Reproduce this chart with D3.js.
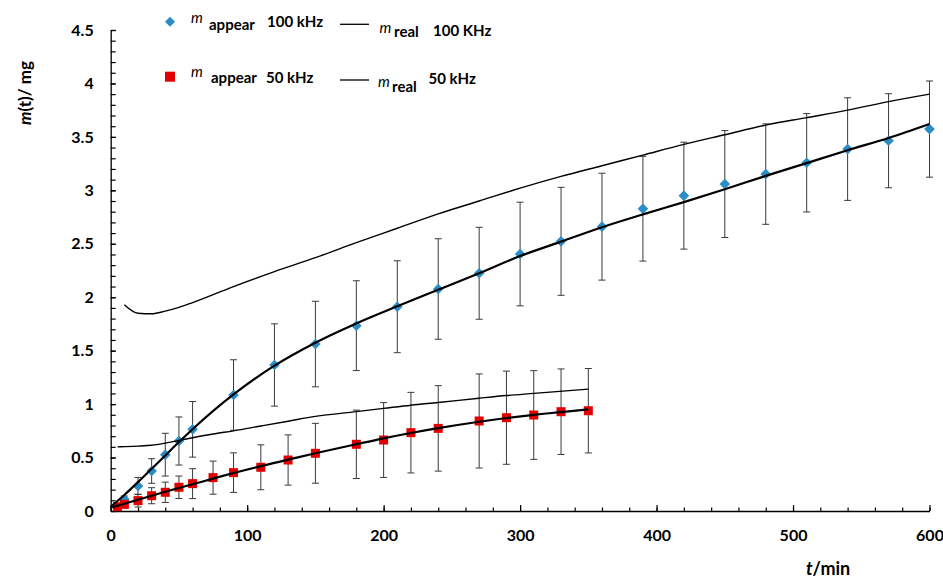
<!DOCTYPE html>
<html>
<head>
<meta charset="utf-8">
<script src="https://cdn.jsdelivr.net/npm/d3@7"></script>
<style>
  html, body { margin: 0; padding: 0; background: #fff; }
  svg { display: block; font-family: Lato, "Open Sans", sans-serif; }
</style>
</head>
<body>
<svg id="chart" width="943" height="579"></svg>
<script>
// Measured mass m(t) in mg versus time t in minutes
const times100   = [10, 20, 30, 40, 50, 60, 90, 120, 150, 180, 210, 240, 270, 300, 330, 360, 390, 420, 450, 480, 510, 540, 570, 600];
const appear100  = [0.11, 0.234, 0.374, 0.527, 0.655, 0.764, 1.085, 1.366, 1.562, 1.734, 1.911, 2.077, 2.224, 2.404, 2.523, 2.66, 2.828, 2.95, 3.059, 3.152, 3.258, 3.386, 3.464, 3.573];
const err100     = [0.03, 0.08, 0.115, 0.2, 0.225, 0.26, 0.33, 0.385, 0.4, 0.42, 0.43, 0.47, 0.43, 0.485, 0.505, 0.5, 0.49, 0.5, 0.5, 0.47, 0.46, 0.48, 0.44, 0.45];
const real100    = [1.93, 1.85, 1.845, 1.87, 1.905, 1.95, 2.10, 2.24, 2.37, 2.51, 2.645, 2.78, 2.90, 3.02, 3.13, 3.23, 3.33, 3.43, 3.52, 3.61, 3.68, 3.75, 3.83, 3.90];
const fitTimes100 = [0, 10, 20, 30, 40, 50, 60, 90, 120, 150, 180, 210, 240, 270, 300, 330, 360, 390, 420, 450, 480, 510, 540, 570, 600];
const fit100     = [0.04, 0.15, 0.27, 0.395, 0.52, 0.645, 0.765, 1.09, 1.36, 1.575, 1.755, 1.915, 2.07, 2.225, 2.385, 2.52, 2.655, 2.775, 2.89, 3.01, 3.135, 3.255, 3.375, 3.49, 3.62];

const times50    = [5, 10, 20, 30, 40, 50, 60, 75, 90, 110, 130, 150, 180, 200, 220, 240, 270, 290, 310, 330, 350];
const appear50   = [0.04, 0.062, 0.097, 0.143, 0.175, 0.222, 0.256, 0.312, 0.359, 0.409, 0.477, 0.54, 0.624, 0.664, 0.733, 0.773, 0.842, 0.873, 0.898, 0.929, 0.938];
const err50      = [0.02, 0.03, 0.06, 0.075, 0.095, 0.105, 0.14, 0.155, 0.185, 0.21, 0.235, 0.28, 0.32, 0.35, 0.377, 0.4, 0.44, 0.436, 0.415, 0.4, 0.395];
const real50     = [0.60, 0.602, 0.607, 0.615, 0.635, 0.66, 0.685, 0.72, 0.75, 0.795, 0.84, 0.885, 0.93, 0.96, 0.99, 1.015, 1.055, 1.08, 1.10, 1.12, 1.14];
const fitTimes50 = [0, 5, 10, 20, 30, 40, 50, 60, 75, 90, 110, 130, 150, 180, 200, 220, 240, 270, 290, 310, 330, 350];
const fit50      = [0.03, 0.05, 0.068, 0.105, 0.143, 0.18, 0.215, 0.25, 0.303, 0.355, 0.42, 0.48, 0.54, 0.625, 0.68, 0.73, 0.775, 0.835, 0.87, 0.90, 0.925, 0.95];

const xTicks = [0, 100, 200, 300, 400, 500, 600];
const xMinorTicks = d3.range(0, 601, 20);
const yTicks = [0, 0.5, 1, 1.5, 2, 2.5, 3, 3.5, 4, 4.5];
const yMinorTicks = d3.range(0, 46).map(i => i / 10);

const svg = d3.select("#chart");
const plotLeft = 110.7, plotRight = 929.5, plotTop = 30, plotBottom = 511;
const x = d3.scaleLinear().domain([0, 600]).range([plotLeft, plotRight]);
const y = d3.scaleLinear().domain([0, 4.5]).range([plotBottom, plotTop]);

const BLUE = "#2a8dc6", RED = "#e00000";

// axes
const yMinor = svg.append("g").attr("transform", `translate(${plotLeft},0)`)
  .call(d3.axisLeft(y).tickValues(yMinorTicks).tickSizeInner(-5).tickSizeOuter(0).tickFormat(""));
yMinor.select(".domain").remove();
svg.append("g").attr("transform", `translate(${plotLeft},0)`)
  .call(d3.axisLeft(y).tickValues(yTicks).tickSizeInner(-5).tickSizeOuter(0).tickPadding(17)
    .tickFormat(d => d3.format("")(d)));
const xMinor = svg.append("g").attr("transform", `translate(0,${plotBottom})`)
  .call(d3.axisBottom(x).tickValues(xMinorTicks).tickSizeInner(-3.5).tickSizeOuter(0).tickFormat(""));
xMinor.select(".domain").remove();
svg.append("g").attr("transform", `translate(0,${plotBottom})`)
  .call(d3.axisBottom(x).tickValues(xTicks).tickSizeInner(-6).tickSizeOuter(0).tickPadding(19));

svg.selectAll(".domain").attr("stroke", "#000").attr("stroke-width", 1.3);
svg.selectAll(".tick line").attr("stroke", "#000").attr("stroke-width", 1.2);
svg.selectAll(".tick text").attr("font-family", "Lato, 'Open Sans', sans-serif")
  .attr("font-size", 16).attr("font-weight", 700).attr("fill", "#000");

// axis titles
svg.append("text").attr("x", 806).attr("y", 575)
  .attr("font-size", 18).attr("font-weight", 700)
  .call(t => {
    t.append("tspan").attr("font-style", "italic").text("t");
    t.append("tspan").text("/min");
  });
svg.append("text").attr("transform", "translate(31,93) rotate(-90)")
  .attr("text-anchor", "middle").attr("font-size", 17).attr("font-weight", 700)
  .call(t => {
    t.append("tspan").attr("font-style", "italic").text("m");
    t.append("tspan").text("(t)/ mg");
  });

const lineGen = d3.line().x(d => x(d[0])).y(d => y(d[1])).curve(d3.curveMonotoneX);
const zip = (a, b) => a.map((v, i) => [v, b[i]]);

// error bars
function errorBars(ts, vs, es) {
  const g = svg.append("g").attr("stroke", "#3a3a3a").attr("stroke-width", 1).attr("fill", "none");
  ts.forEach((t, i) => {
    const cx = x(t), y1 = y(vs[i] + es[i]), y0 = y(vs[i] - es[i]);
    g.append("line").attr("x1", cx).attr("x2", cx).attr("y1", y1).attr("y2", y0);
    g.append("line").attr("x1", cx - 3.5).attr("x2", cx + 3.5).attr("y1", y1).attr("y2", y1);
    g.append("line").attr("x1", cx - 3.5).attr("x2", cx + 3.5).attr("y1", y0).attr("y2", y0);
  });
}
errorBars(times100, appear100, err100);
errorBars(times50, appear50, err50);

// markers
const diamond = d3.symbol().type(d3.symbolDiamond2).size(72);
svg.append("g").selectAll("path").data(zip(times100, appear100)).join("path")
  .attr("d", diamond).attr("fill", BLUE)
  .attr("transform", d => `translate(${x(d[0])},${y(d[1])})`);
svg.append("g").selectAll("rect").data(zip(times50, appear50)).join("rect")
  .attr("x", d => x(d[0]) - 4.5).attr("y", d => y(d[1]) - 4.5)
  .attr("width", 9).attr("height", 9).attr("fill", RED);

// real-mass curves (thin) and fitted curves (thick)
svg.append("path").datum(zip(times100, real100)).attr("d", lineGen)
  .attr("fill", "none").attr("stroke", "#000").attr("stroke-width", 1.4);
svg.append("path").datum(zip(times50, real50)).attr("d", lineGen)
  .attr("fill", "none").attr("stroke", "#000").attr("stroke-width", 1.4);
svg.append("path").datum(zip(fitTimes100, fit100)).attr("d", lineGen)
  .attr("fill", "none").attr("stroke", "#000").attr("stroke-width", 2.2);
svg.append("path").datum(zip(fitTimes50, fit50)).attr("d", lineGen)
  .attr("fill", "none").attr("stroke", "#000").attr("stroke-width", 2.2);

// legend
const legend = svg.append("g").attr("font-weight", 700).attr("font-size", 15);
legend.append("path").attr("d", d3.symbol().type(d3.symbolDiamond2).size(64)())
  .attr("fill", BLUE).attr("transform", "translate(170,21.7)");
legend.append("rect").attr("x", 165).attr("y", 71.7).attr("width", 10).attr("height", 10).attr("fill", RED);
function mLabel(xm, ym, sub, xs, ys, freq, xf, yf) {
  legend.append("text").attr("x", xm).attr("y", ym).attr("font-style", "italic")
    .attr("font-weight", 400).attr("font-size", 15).text("m");
  legend.append("text").attr("x", xs).attr("y", ys).text(sub);
  legend.append("text").attr("x", xf).attr("y", yf).text(freq);
}
mLabel(191, 22.7, "appear", 209, 30, "100 kHz", 267, 26.7);
mLabel(379.5, 32.7, "real", 394, 36.5, "100 KHz", 433, 35.7);
mLabel(191, 76.7, "appear", 211, 83.3, "50 kHz", 266, 83.3);
mLabel(378, 87.3, "real", 392, 91.7, "50 kHz", 428.5, 84.3);
legend.append("line").attr("x1", 340).attr("x2", 369).attr("y1", 24.3).attr("y2", 24.3)
  .attr("stroke", "#000").attr("stroke-width", 1.3);
legend.append("line").attr("x1", 340).attr("x2", 369).attr("y1", 80).attr("y2", 80)
  .attr("stroke", "#000").attr("stroke-width", 1.3);
</script>
</body>
</html>
